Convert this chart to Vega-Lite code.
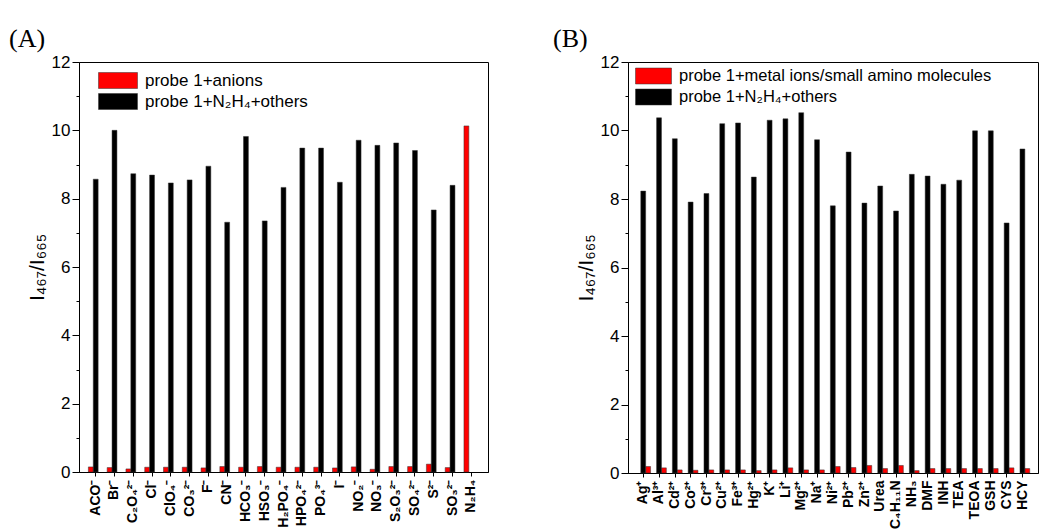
{
  "$schema": "https://vega.github.io/schema/vega-lite/v6.json",
  "background": "white",
  "padding": {"left": 8, "top": 25, "right": 0, "bottom": 0},
  "spacing": 63,
  "datasets": {
    "A": [
      {"ion": "ACO⁻", "series": "probe 1+anions", "value": 0.15},
      {"ion": "ACO⁻", "series": "probe 1+N₂H₄+others", "value": 8.57},
      {"ion": "Br⁻", "series": "probe 1+anions", "value": 0.13},
      {"ion": "Br⁻", "series": "probe 1+N₂H₄+others", "value": 10.0},
      {"ion": "C₂O₄²⁻", "series": "probe 1+anions", "value": 0.09},
      {"ion": "C₂O₄²⁻", "series": "probe 1+N₂H₄+others", "value": 8.73},
      {"ion": "Cl⁻", "series": "probe 1+anions", "value": 0.14},
      {"ion": "Cl⁻", "series": "probe 1+N₂H₄+others", "value": 8.69},
      {"ion": "ClO₄⁻", "series": "probe 1+anions", "value": 0.14},
      {"ion": "ClO₄⁻", "series": "probe 1+N₂H₄+others", "value": 8.46},
      {"ion": "CO₃²⁻", "series": "probe 1+anions", "value": 0.14},
      {"ion": "CO₃²⁻", "series": "probe 1+N₂H₄+others", "value": 8.55},
      {"ion": "F⁻", "series": "probe 1+anions", "value": 0.12},
      {"ion": "F⁻", "series": "probe 1+N₂H₄+others", "value": 8.95},
      {"ion": "CN⁻", "series": "probe 1+anions", "value": 0.16},
      {"ion": "CN⁻", "series": "probe 1+N₂H₄+others", "value": 7.31},
      {"ion": "HCO₃⁻", "series": "probe 1+anions", "value": 0.14},
      {"ion": "HCO₃⁻", "series": "probe 1+N₂H₄+others", "value": 9.82},
      {"ion": "HSO₃⁻", "series": "probe 1+anions", "value": 0.16},
      {"ion": "HSO₃⁻", "series": "probe 1+N₂H₄+others", "value": 7.35},
      {"ion": "H₂PO₄⁻", "series": "probe 1+anions", "value": 0.14},
      {"ion": "H₂PO₄⁻", "series": "probe 1+N₂H₄+others", "value": 8.33},
      {"ion": "HPO₄²⁻", "series": "probe 1+anions", "value": 0.14},
      {"ion": "HPO₄²⁻", "series": "probe 1+N₂H₄+others", "value": 9.48},
      {"ion": "PO₄³⁻", "series": "probe 1+anions", "value": 0.14},
      {"ion": "PO₄³⁻", "series": "probe 1+N₂H₄+others", "value": 9.48},
      {"ion": "I⁻", "series": "probe 1+anions", "value": 0.12},
      {"ion": "I⁻", "series": "probe 1+N₂H₄+others", "value": 8.48},
      {"ion": "NO₂⁻", "series": "probe 1+anions", "value": 0.15},
      {"ion": "NO₂⁻", "series": "probe 1+N₂H₄+others", "value": 9.71},
      {"ion": "NO₃⁻", "series": "probe 1+anions", "value": 0.08},
      {"ion": "NO₃⁻", "series": "probe 1+N₂H₄+others", "value": 9.56},
      {"ion": "S₂O₃²⁻", "series": "probe 1+anions", "value": 0.16},
      {"ion": "S₂O₃²⁻", "series": "probe 1+N₂H₄+others", "value": 9.63},
      {"ion": "SO₄²⁻", "series": "probe 1+anions", "value": 0.16},
      {"ion": "SO₄²⁻", "series": "probe 1+N₂H₄+others", "value": 9.41},
      {"ion": "S²⁻", "series": "probe 1+anions", "value": 0.23},
      {"ion": "S²⁻", "series": "probe 1+N₂H₄+others", "value": 7.67},
      {"ion": "SO₃²⁻", "series": "probe 1+anions", "value": 0.13},
      {"ion": "SO₃²⁻", "series": "probe 1+N₂H₄+others", "value": 8.39},
      {"ion": "N₂H₄", "series": "probe 1+anions", "value": 10.13}
    ],
    "B": [
      {"ion": "Ag⁺", "series": "probe 1+metal ions/small amino molecules", "value": 0.19},
      {"ion": "Ag⁺", "series": "probe 1+N₂H₄+others", "value": 8.23},
      {"ion": "Al³⁺", "series": "probe 1+metal ions/small amino molecules", "value": 0.15},
      {"ion": "Al³⁺", "series": "probe 1+N₂H₄+others", "value": 10.37},
      {"ion": "Cd²⁺", "series": "probe 1+metal ions/small amino molecules", "value": 0.09},
      {"ion": "Cd²⁺", "series": "probe 1+N₂H₄+others", "value": 9.76},
      {"ion": "Co²⁺", "series": "probe 1+metal ions/small amino molecules", "value": 0.08},
      {"ion": "Co²⁺", "series": "probe 1+N₂H₄+others", "value": 7.91},
      {"ion": "Cr³⁺", "series": "probe 1+metal ions/small amino molecules", "value": 0.09},
      {"ion": "Cr³⁺", "series": "probe 1+N₂H₄+others", "value": 8.16},
      {"ion": "Cu²⁺", "series": "probe 1+metal ions/small amino molecules", "value": 0.09},
      {"ion": "Cu²⁺", "series": "probe 1+N₂H₄+others", "value": 10.2},
      {"ion": "Fe³⁺", "series": "probe 1+metal ions/small amino molecules", "value": 0.09},
      {"ion": "Fe³⁺", "series": "probe 1+N₂H₄+others", "value": 10.22},
      {"ion": "Hg²⁺", "series": "probe 1+metal ions/small amino molecules", "value": 0.07},
      {"ion": "Hg²⁺", "series": "probe 1+N₂H₄+others", "value": 8.64},
      {"ion": "K⁺", "series": "probe 1+metal ions/small amino molecules", "value": 0.09},
      {"ion": "K⁺", "series": "probe 1+N₂H₄+others", "value": 10.3},
      {"ion": "Li⁺", "series": "probe 1+metal ions/small amino molecules", "value": 0.15},
      {"ion": "Li⁺", "series": "probe 1+N₂H₄+others", "value": 10.34},
      {"ion": "Mg²⁺", "series": "probe 1+metal ions/small amino molecules", "value": 0.09},
      {"ion": "Mg²⁺", "series": "probe 1+N₂H₄+others", "value": 10.52},
      {"ion": "Na⁺", "series": "probe 1+metal ions/small amino molecules", "value": 0.09},
      {"ion": "Na⁺", "series": "probe 1+N₂H₄+others", "value": 9.73},
      {"ion": "Ni²⁺", "series": "probe 1+metal ions/small amino molecules", "value": 0.19},
      {"ion": "Ni²⁺", "series": "probe 1+N₂H₄+others", "value": 7.8},
      {"ion": "Pb²⁺", "series": "probe 1+metal ions/small amino molecules", "value": 0.16},
      {"ion": "Pb²⁺", "series": "probe 1+N₂H₄+others", "value": 9.37},
      {"ion": "Zn²⁺", "series": "probe 1+metal ions/small amino molecules", "value": 0.22},
      {"ion": "Zn²⁺", "series": "probe 1+N₂H₄+others", "value": 7.88},
      {"ion": "Urea", "series": "probe 1+metal ions/small amino molecules", "value": 0.13},
      {"ion": "Urea", "series": "probe 1+N₂H₄+others", "value": 8.38},
      {"ion": "C₄H₁₁N", "series": "probe 1+metal ions/small amino molecules", "value": 0.22},
      {"ion": "C₄H₁₁N", "series": "probe 1+N₂H₄+others", "value": 7.65},
      {"ion": "NH₃", "series": "probe 1+metal ions/small amino molecules", "value": 0.07},
      {"ion": "NH₃", "series": "probe 1+N₂H₄+others", "value": 8.72},
      {"ion": "DMF", "series": "probe 1+metal ions/small amino molecules", "value": 0.13},
      {"ion": "DMF", "series": "probe 1+N₂H₄+others", "value": 8.67},
      {"ion": "INH", "series": "probe 1+metal ions/small amino molecules", "value": 0.13},
      {"ion": "INH", "series": "probe 1+N₂H₄+others", "value": 8.43},
      {"ion": "TEA", "series": "probe 1+metal ions/small amino molecules", "value": 0.13},
      {"ion": "TEA", "series": "probe 1+N₂H₄+others", "value": 8.55},
      {"ion": "TEOA", "series": "probe 1+metal ions/small amino molecules", "value": 0.13},
      {"ion": "TEOA", "series": "probe 1+N₂H₄+others", "value": 9.99},
      {"ion": "GSH", "series": "probe 1+metal ions/small amino molecules", "value": 0.13},
      {"ion": "GSH", "series": "probe 1+N₂H₄+others", "value": 9.99},
      {"ion": "CYS", "series": "probe 1+metal ions/small amino molecules", "value": 0.15},
      {"ion": "CYS", "series": "probe 1+N₂H₄+others", "value": 7.3},
      {"ion": "HCY", "series": "probe 1+metal ions/small amino molecules", "value": 0.13},
      {"ion": "HCY", "series": "probe 1+N₂H₄+others", "value": 9.46}
    ]
  },
  "config": {
    "view": {"stroke": "black", "strokeWidth": 1},
    "axis": {
      "domainColor": "black", "tickColor": "black", "labelColor": "black", "titleColor": "black",
      "grid": false, "labelFont": "Liberation Sans", "titleFont": "Liberation Sans", "labelOverlap": false
    },
    "title": {"font": "Liberation Serif", "fontSize": 26, "fontWeight": "normal", "anchor": "start", "frame": "group", "color": "black"}
  },
  "resolve": {"scale": {"color": "independent", "x": "independent", "y": "independent"}, "legend": {"color": "independent"}},
  "hconcat": [
    {
      "width": 409,
      "height": 410,
      "title": {"text": "(A)", "dx": -70, "offset": 1},
      "data": {"name": "A"},
      "mark": {"type": "bar", "stroke": "#333333", "strokeWidth": 0.5},
      "encoding": {
        "x": {
          "field": "ion", "type": "nominal", "sort": null,
          "scale": {"paddingInner": 0.22, "paddingOuter": 0.5},
          "axis": {"title": null, "labelAngle": -90, "labelFontSize": 14, "labelFontWeight": "bold", "tickSize": 4, "labelPadding": 3}
        },
        "xOffset": {"field": "series", "type": "nominal", "scale": {"domain": ["probe 1+anions", "probe 1+N₂H₄+others"]}},
        "y": {
          "field": "value", "type": "quantitative",
          "scale": {"domain": [0, 12], "nice": false},
          "axis": {
            "title": "I₄₆₇/I₆₆₅", "titleFontSize": 21, "titleFontWeight": "normal", "titlePadding": 4,
            "values": [0, 1, 2, 3, 4, 5, 6, 7, 8, 9, 10, 11, 12],
            "labelExpr": "datum.value % 2 === 0 ? datum.label : ''",
            "tickSize": {"condition": {"test": "datum.value % 2 === 0", "value": 7}, "value": 3},
            "labelFontSize": 17, "labelPadding": 2
          }
        },
        "color": {
          "field": "series", "type": "nominal",
          "scale": {"domain": ["probe 1+anions", "probe 1+N₂H₄+others"], "range": ["#ff0000", "#000000"]},
          "legend": {
            "title": null, "orient": "none", "legendX": 28.5, "legendY": 8, "padding": 0,
            "symbolType": "M-1.95,-0.8H1.95V0.8H-1.95Z", "symbolSize": 400, "symbolStrokeWidth": 0.5, "symbolStrokeColor": "#333333",
            "labelFont": "Liberation Sans", "labelFontSize": 17, "labelColor": "black", "labelOffset": 16.5, "rowPadding": 1, "labelLimit": 400
          }
        }
      }
    },
    {
      "width": 410,
      "height": 411,
      "title": {"text": "(B)", "dx": -75, "offset": 1},
      "data": {"name": "B"},
      "mark": {"type": "bar", "stroke": "#333333", "strokeWidth": 0.5},
      "encoding": {
        "x": {
          "field": "ion", "type": "nominal", "sort": null,
          "scale": {"paddingInner": 0.05, "paddingOuter": 0.5},
          "axis": {"title": null, "labelAngle": -90, "labelFontSize": 14, "labelFontWeight": "bold", "tickSize": 4, "labelPadding": 3}
        },
        "xOffset": {"field": "series", "type": "nominal", "scale": {"domain": ["probe 1+metal ions/small amino molecules", "probe 1+N₂H₄+others"]}},
        "y": {
          "field": "value", "type": "quantitative",
          "scale": {"domain": [0, 12], "nice": false},
          "axis": {
            "title": "I₄₆₇/I₆₆₅", "titleFontSize": 21, "titleFontWeight": "normal", "titlePadding": 4,
            "values": [0, 1, 2, 3, 4, 5, 6, 7, 8, 9, 10, 11, 12],
            "labelExpr": "datum.value % 2 === 0 ? datum.label : ''",
            "tickSize": {"condition": {"test": "datum.value % 2 === 0", "value": 7}, "value": 3},
            "labelFontSize": 17, "labelPadding": 2
          }
        },
        "color": {
          "field": "series", "type": "nominal",
          "scale": {"domain": ["probe 1+metal ions/small amino molecules", "probe 1+N₂H₄+others"], "range": ["#ff0000", "#000000"]},
          "legend": {
            "title": null, "orient": "none", "legendX": 15, "legendY": 3.5, "padding": 0,
            "symbolType": "M-1.8,-0.8H1.8V0.8H-1.8Z", "symbolSize": 400, "symbolStrokeWidth": 0.5, "symbolStrokeColor": "#333333",
            "labelFont": "Liberation Sans", "labelFontSize": 16.5, "labelColor": "black", "labelOffset": 15, "rowPadding": 1, "labelLimit": 400
          }
        }
      }
    }
  ]
}
